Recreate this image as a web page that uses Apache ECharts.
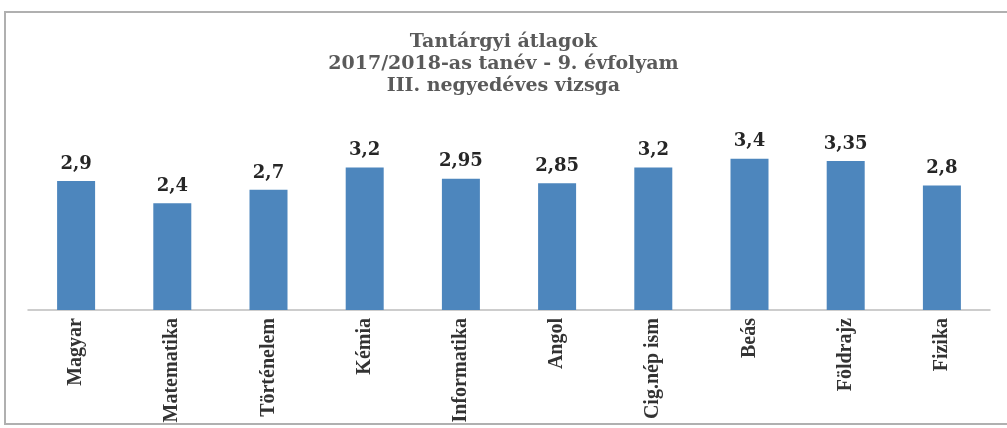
<!DOCTYPE html>
<html>
<head>
<meta charset="utf-8">
<script src="https://cdn.jsdelivr.net/npm/echarts@6/dist/echarts.min.js"></script>
<style>
  html, body { margin: 0; padding: 0; background: #fff; }
  #chart { width: 1007px; height: 428px; }
</style>
</head>
<body>
<div id="chart"></div>
<script>
  // tantárgyak és átlagok
  const subjects = ['Magyar', 'Matematika', 'Történelem', 'Kémia', 'Informatika', 'Angol', 'Cig.nép ism', 'Beás', 'Földrajz', 'Fizika']
  const averages = [2.9, 2.4, 2.7, 3.2, 2.95, 2.85, 3.2, 3.4, 3.35, 2.8]

  const serif = '"Liberation Serif", "DejaVu Serif", serif'
  const wideSerif = '"DejaVu Serif", "Liberation Serif", serif'
  const chart = echarts.init(document.getElementById('chart'))
  chart.setOption({
    animation: false,
    title: {
      text: 'Tantárgyi átlagok\n2017/2018-as tanév - 9. évfolyam\nIII. negyedéves vizsga',
      left: 'center',
      top: 26,
      textStyle: { fontFamily: wideSerif, fontWeight: 'bold', fontSize: 19, lineHeight: 22, color: '#5a5a5a' }
    },
    graphic: [{
      type: 'rect',
      shape: { x: 5, y: 12, width: 1010, height: 412 },
      style: { fill: 'none', stroke: '#b0b0b0', lineWidth: 2 }
    }],
    grid: { left: 28, right: 17, top: 132, bottom: 118 },
    xAxis: {
      type: 'category',
      data: subjects,
      axisLine: { lineStyle: { color: '#bdbdbd', width: 1.5 } },
      axisTick: { show: false },
      axisLabel: {
        rotate: 90,
        margin: 8,
        fontFamily: serif,
        fontWeight: 'bold',
        fontSize: 20,
        color: '#333'
      }
    },
    yAxis: {
      type: 'value',
      min: 0,
      max: 4,
      show: false
    },
    series: [{
      type: 'bar',
      data: averages,
      barWidth: 38,
      itemStyle: { color: '#4d86bd' },
      label: {
        show: true,
        position: 'top',
        distance: 8,
        fontFamily: wideSerif,
        fontWeight: 'bold',
        fontSize: 18,
        color: '#262626',
        formatter: p => String(p.value).replace('.', ',')
      }
    }]
  })
</script>
</body>
</html>
